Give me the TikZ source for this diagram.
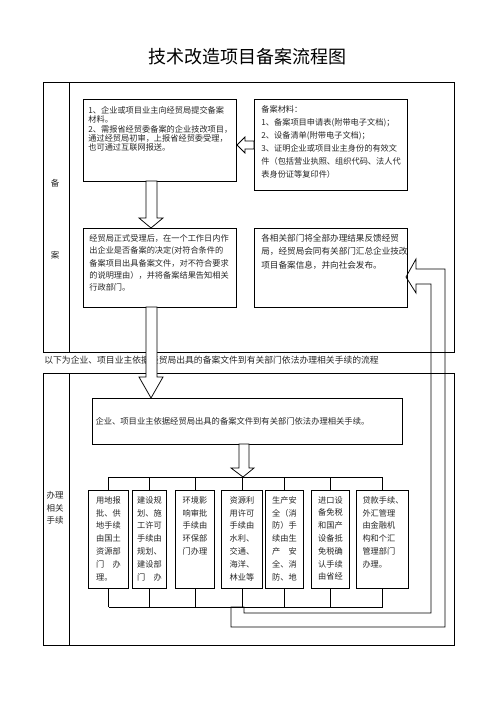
\documentclass[tikz,border=0pt]{standalone}
\usepackage{fontspec}
\setmainfont{Noto Sans CJK SC}
\usetikzlibrary{positioning}
\tikzset{every picture/.style={line width=0.75pt}}
\tikzset{
  box/.style={draw, line width=1pt, anchor=north west, inner sep=0pt},
  txt/.style={anchor=north west, inner sep=0pt, align=left, text=black!85},
  colbox/.style={draw, line width=1pt, anchor=north west, inner sep=0pt, minimum height=98pt},
  coltxt/.style={anchor=north, inner sep=0pt, align=left, text=black!85, text width=24.6pt, font=\fontsize{8.2}{12.8}\selectfont},
  hollow/.style={draw, fill=white, line join=miter},
  side/.style={inner sep=0pt, align=center, text=black!85, font=\fontsize{8.5}{12.5}\selectfont},
}

\begin{document}
\begin{tikzpicture}[x=1pt,y=1pt,yscale=-1,xscale=1]
	\useasboundingbox (0,0) rectangle (496,702);

	% Title
	\node (title) at (247.5,57) {\fontsize{18}{20}\selectfont 技术改造项目备案流程图};

	% Frames
	\draw (43,82) rectangle (454,352) ;
	\draw (69,82) -- (69,352) ;
	\draw (43,373) rectangle (454,645) ;
	\draw (69,373) -- (69,645) ;

	% Side labels
	\node[side] (bei) at (55,183) {备};
	\node[side] (an) at (55,255) {案};
	\node[side] (banli) at (55,508) {办理\\相关\\手续};

	% Caption
	\node[txt, anchor=west, font=\fontsize{8.8}{10}\selectfont] (caption) at (44,360) {以下为企业、项目业主依据经贸局出具的备案文件到有关部门依法办理相关手续的流程};

	% Upper boxes
	\node[box, minimum width=153pt, minimum height=82pt] (apply) at (83,99) {};
	\node[txt, font=\fontsize{8.2}{9.4}\selectfont] (applytxt) at ([xshift=5pt,yshift=7pt]apply.north west) {1、企业或项目业主向经贸局提交备案\\材料。\\2、需报省经贸委备案的企业技改项目，\\通过经贸局初审，上报省经贸委受理，\\也可通过互联网报送。};

	\node[box, minimum width=153pt, minimum height=91pt] (materials) at (254,99) {};
	\node[txt, font=\fontsize{8.2}{13}\selectfont] (materialstxt) at ([xshift=7pt,yshift=6pt]materials.north west) {备案材料：\\1、备案项目申请表(附带电子文档)；\\2、设备清单(附带电子文档)；\\3、证明企业或项目业主身份的有效文\\件（包括营业执照、组织代码、法人代\\表身份证等复印件）};

	\node[box, minimum width=153pt, minimum height=79pt] (accept) at (83,228) {};
	\node[txt, font=\fontsize{8.2}{12.4}\selectfont] (accepttxt) at ([xshift=6pt,yshift=6pt]accept.north west) {经贸局正式受理后，在一个工作日内作\\出企业是否备案的决定(对符合条件的\\备案项目出具备案文件，对不符合要求\\的说明理由），并将备案结果告知相关\\行政部门。};

	\node[box, minimum width=153pt, minimum height=79pt] (publish) at (254,228) {};
	\node[txt, font=\fontsize{8.6}{13.3}\selectfont] (publishtxt) at ([xshift=7pt,yshift=6pt]publish.north west) {各相关部门将全部办理结果反馈经贸\\局，经贸局会同有关部门汇总企业技改\\项目备案信息，并向社会发布。};

	% Lower wide box
	\node[box, minimum width=310pt, minimum height=46pt, text width=304pt, align=left, inner xsep=3pt, text=black!85, font=\fontsize{8.3}{10}\selectfont] (handle) at (92,398) {企业、项目业主依据经贸局出具的备案文件到有关部门依法办理相关手续。};

	% Department boxes
	\node[colbox, minimum width=40pt] (land) at (88,490) {};
	\node[colbox, minimum width=34pt] (plan) at (132,490) {};
	\node[colbox, minimum width=39pt] (envir) at (175,490) {};
	\node[colbox, minimum width=41pt] (resource) at (221,490) {};
	\node[colbox, minimum width=38pt] (safety) at (265,490) {};
	\node[colbox, minimum width=38pt] (import) at (311,490) {};
	\node[colbox, minimum width=52pt] (loan) at (356,490) {};

	\node[coltxt] (landtxt) at ([yshift=6pt]land.north) {用地报\\批、供\\地手续\\由国土\\资源部\\门　办\\理。};
	\node[coltxt] (plantxt) at ([yshift=6pt]plan.north) {建设规\\划、施\\工许可\\手续由\\规划、\\建设部\\门　办};
	\node[coltxt] (envirtxt) at ([yshift=6pt]envir.north) {环境影\\响审批\\手续由\\环保部\\门办理};
	\node[coltxt] (resourcetxt) at ([yshift=6pt]resource.north) {资源利\\用许可\\手续由\\水利、\\交通、\\海洋、\\林业等};
	\node[coltxt] (safetytxt) at ([yshift=6pt]safety.north) {生产安\\全（消\\防）手\\续由生\\产　安\\全、消\\防、地};
	\node[coltxt] (importtxt) at ([yshift=6pt]import.north) {进口设\\备免税\\和国产\\设备抵\\免税确\\认手续\\由省经};
	\node[coltxt, text width=40pt] (loantxt) at ([yshift=6pt]loan.north) {贷款手续、\\外汇管理\\由金融机\\构和个汇\\管理部门\\办理。};

	% Buses
	\coordinate (topbus) at (0,477);
	\coordinate (botbus) at (0,607);
	\draw (land.north |- topbus) -- (loan.north |- topbus) ;
	\draw (land.south |- botbus) -- (loan.south |- botbus) ;
	\draw (land.north) -- (land.north |- topbus) ;
	\draw (plan.north) -- (plan.north |- topbus) ;
	\draw (envir.north) -- (envir.north |- topbus) ;
	\draw (resource.north) -- (resource.north |- topbus) ;
	\draw (safety.north) -- (safety.north |- topbus) ;
	\draw (import.north) -- (import.north |- topbus) ;
	\draw (loan.north) -- (loan.north |- topbus) ;
	\draw (land.south) -- (land.south |- botbus) ;
	\draw (plan.south) -- (plan.south |- botbus) ;
	\draw (envir.south) -- (envir.south |- botbus) ;
	\draw (resource.south) -- (resource.south |- botbus) ;
	\draw (safety.south) -- (safety.south |- botbus) ;
	\draw (import.south) -- (import.south |- botbus) ;
	\draw (loan.south) -- (loan.south |- botbus) ;

	% Hollow arrows
	\draw[hollow] (237,145) -- (245,137) -- (245,141) -- (254,141) -- (254,149) -- (245,149) -- (245,153) -- cycle ;
	\draw[hollow] (146,181) -- (157,181) -- (157,218) -- (163,218) -- (151,228) -- (139,218) -- (146,218) -- cycle ;
	\draw[hollow] (146,307) -- (157,307) -- (157,377) -- (163,377) -- (151,398) -- (139,377) -- (146,377) -- cycle ;
	\draw[hollow] (239,444) -- (249,444) -- (249,468) -- (254,468) -- (243,477) -- (231,468) -- (239,468) -- cycle ;
	% Feedback arrow
	\draw[line join=miter] (406,277) -- (416,259) -- (416,269) -- (445,269) -- (445,627) -- (231,627) -- (231,607) -- (244,607) -- (244,613) -- (431,613) -- (431,284) -- (416,284) -- (416,293) -- cycle ;

\end{tikzpicture}
\end{document}
